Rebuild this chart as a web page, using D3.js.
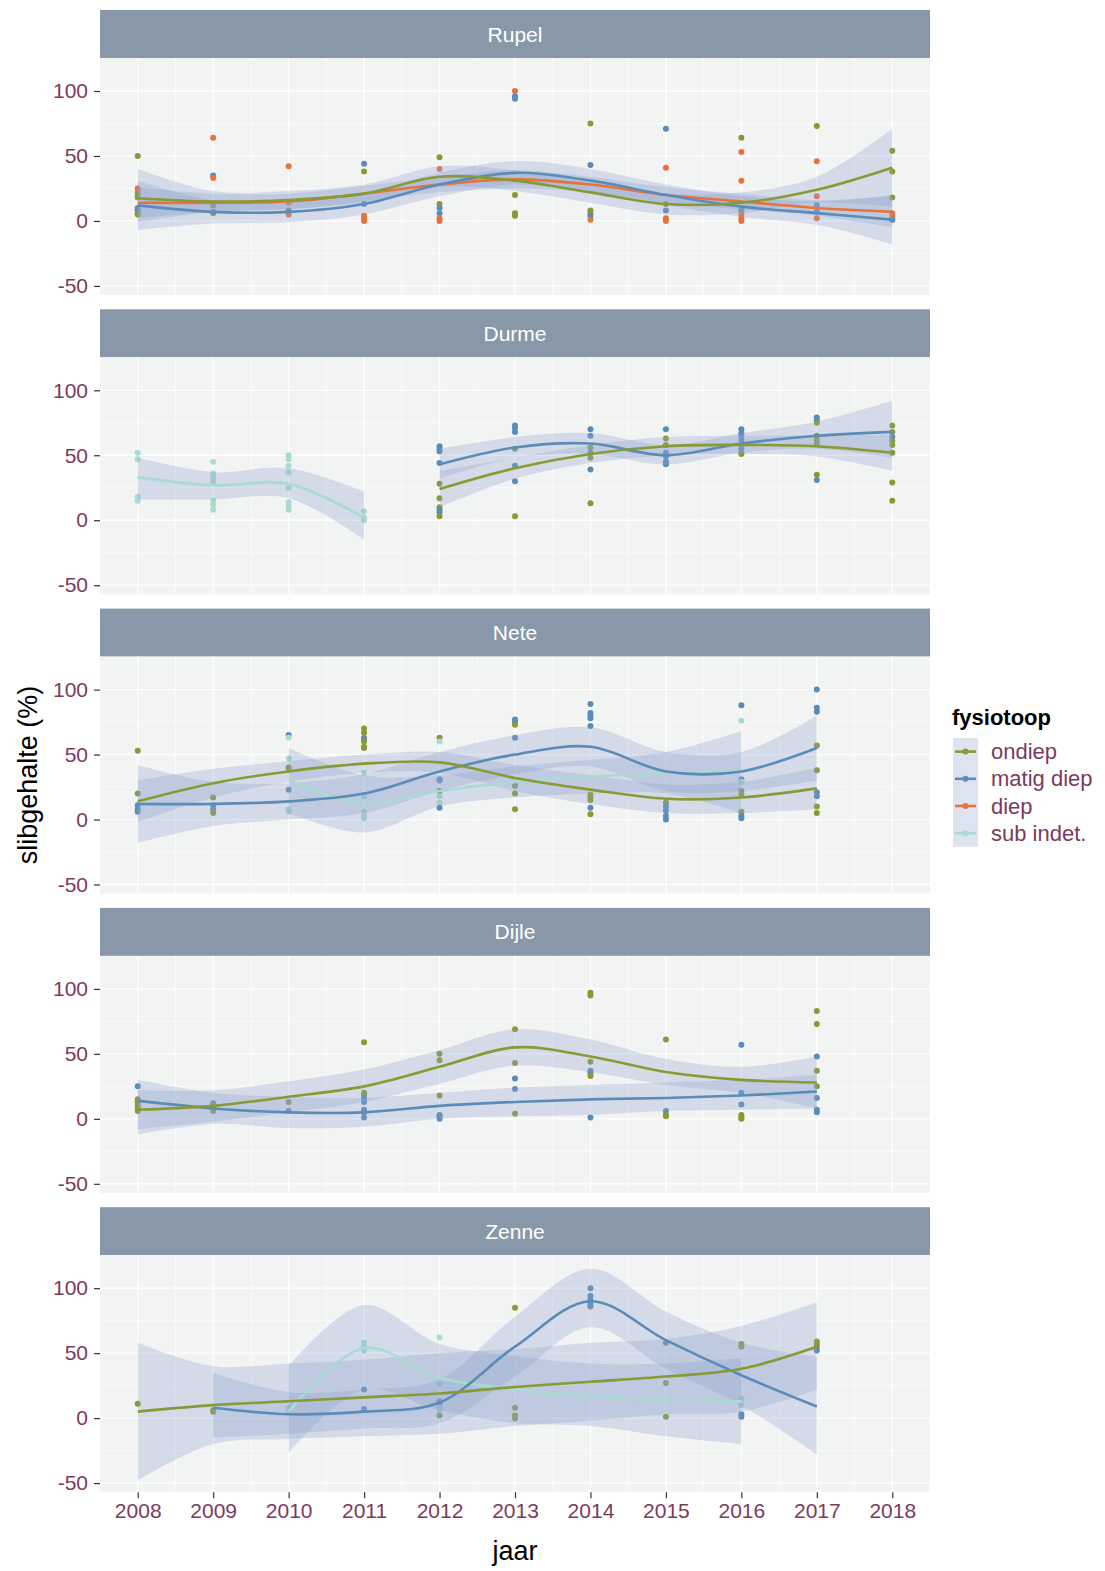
<!DOCTYPE html>
<html>
<head>
<meta charset="utf-8">
<script src="https://cdn.jsdelivr.net/npm/d3@7"></script>
<style>
  body { margin: 0; background: #fff; }
  text { font-family: "Liberation Sans", Arial, sans-serif; }
</style>
</head>
<body>
<div id="chart"></div>
<script>
/********************************************************/
// categories
const panelNames = ["Rupel", "Durme", "Nete", "Dijle", "Zenne"];
const seriesNames = ["ondiep", "matig diep", "diep", "sub indet."];
const seriesColors = ["#879a33", "#5a8cb9", "#e8733a", "#a8dcd2"];
const yearTicks = [2008, 2009, 2010, 2011, 2012, 2013, 2014, 2015, 2016, 2017, 2018];
const yTicks = [-50, 0, 50, 100];
/********************************************************/
// raw points: [jaar, fysiotoop index, slibgehalte]
const rupelPoints = [
  [2008,0,50],[2008,2,25],[2008,2,22],[2008,0,20],[2008,0,18],[2008,0,10],[2008,0,8],[2008,0,6],[2008,0,5],[2008,1,9],
  [2009,2,64],[2009,1,35],[2009,2,33],[2009,2,12],[2009,0,12],[2009,2,6],[2009,1,7],
  [2010,2,42],[2010,2,14],[2010,1,8],[2010,2,5],
  [2011,1,44],[2011,0,38],[2011,1,13],[2011,2,4],[2011,2,2],[2011,2,0],
  [2012,0,49],[2012,2,40],[2012,0,13],[2012,1,10],[2012,1,6],[2012,2,2],[2012,2,0],
  [2013,2,100],[2013,1,96],[2013,1,94],[2013,0,20],[2013,0,6],[2013,0,4],
  [2014,0,75],[2014,1,43],[2014,0,8],[2014,0,6],[2014,1,4],[2014,2,1],
  [2015,1,71],[2015,2,41],[2015,0,13],[2015,1,8],[2015,2,2],[2015,2,0],
  [2016,0,64],[2016,2,53],[2016,2,31],[2016,0,8],[2016,1,8],[2016,2,5],[2016,2,2],[2016,2,0],
  [2017,0,73],[2017,2,46],[2017,2,19],[2017,1,12],[2017,1,7],[2017,2,2],
  [2018,0,54],[2018,0,38],[2018,0,18],[2018,2,6],[2018,2,3],[2018,2,1],[2018,1,1]
];
const durmePoints = [
  [2008,3,52],[2008,3,47],[2008,3,18],[2008,3,15],
  [2009,3,45],[2009,3,36],[2009,3,33],[2009,3,30],[2009,3,15],[2009,3,12],[2009,3,8],
  [2010,3,50],[2010,3,47],[2010,3,42],[2010,3,37],[2010,3,25],[2010,3,14],[2010,3,11],[2010,3,8],
  [2011,3,7],[2011,3,2],[2011,3,0],
  [2012,1,57],[2012,1,55],[2012,1,53],[2012,1,44],[2012,0,28],[2012,0,17],[2012,0,10],[2012,1,8],[2012,1,6],[2012,0,3],
  [2013,1,73],[2013,1,71],[2013,1,68],[2013,0,55],[2013,1,42],[2013,1,30],[2013,0,3],
  [2014,1,70],[2014,1,65],[2014,0,56],[2014,1,52],[2014,0,48],[2014,1,39],[2014,0,13],
  [2015,1,70],[2015,0,63],[2015,0,58],[2015,1,52],[2015,1,49],[2015,1,45],[2015,1,43],
  [2016,1,70],[2016,1,67],[2016,1,65],[2016,1,62],[2016,1,55],[2016,1,52],[2016,0,51],
  [2017,1,79],[2017,1,77],[2017,0,75],[2017,0,65],[2017,0,62],[2017,0,59],[2017,0,35],[2017,1,31],
  [2018,0,73],[2018,0,68],[2018,1,64],[2018,0,61],[2018,0,58],[2018,0,52],[2018,0,29],[2018,0,15]
];
const netePoints = [
  [2008,0,53],[2008,0,20],[2008,1,11],[2008,1,8],[2008,1,6],
  [2009,0,17],[2009,1,11],[2009,1,8],[2009,0,5],
  [2010,1,65],[2010,3,63],[2010,3,47],[2010,0,40],[2010,0,39],[2010,1,23],[2010,3,8],[2010,3,6],
  [2011,0,70],[2011,0,67],[2011,0,63],[2011,1,62],[2011,0,60],[2011,0,56],[2011,0,55],[2011,3,36],[2011,3,18],[2011,3,6],[2011,3,3],[2011,3,1],
  [2012,0,63],[2012,3,60],[2012,1,31],[2012,1,30],[2012,0,22],[2012,3,18],[2012,3,13],[2012,1,9],
  [2013,1,77],[2013,1,75],[2013,0,73],[2013,1,63],[2013,0,26],[2013,0,20],[2013,0,8],
  [2014,1,89],[2014,1,82],[2014,1,80],[2014,1,78],[2014,1,72],[2014,0,19],[2014,0,17],[2014,0,15],[2014,1,9],[2014,0,4],
  [2015,0,13],[2015,1,10],[2015,1,7],[2015,1,3],[2015,1,0],
  [2016,1,88],[2016,3,76],[2016,1,31],[2016,3,29],[2016,0,22],[2016,0,19],[2016,0,6],[2016,1,3],[2016,1,1],
  [2017,1,100],[2017,1,86],[2017,1,83],[2017,0,57],[2017,0,38],[2017,1,21],[2017,1,18],[2017,0,10],[2017,0,5]
];
const dijlePoints = [
  [2008,1,25],[2008,0,15],[2008,0,13],[2008,0,11],[2008,0,9],[2008,0,6],
  [2009,1,12],[2009,0,10],[2009,1,8],[2009,0,6],
  [2010,0,13],[2010,1,6],
  [2011,0,59],[2011,0,20],[2011,0,18],[2011,1,16],[2011,1,13],[2011,1,7],[2011,1,5],[2011,1,1],
  [2012,0,50],[2012,0,45],[2012,0,18],[2012,1,3],[2012,1,2],[2012,1,0],
  [2013,0,69],[2013,0,43],[2013,1,31],[2013,1,23],[2013,0,4],
  [2014,0,97],[2014,0,95],[2014,0,44],[2014,1,37],[2014,1,35],[2014,0,33],[2014,1,1],
  [2015,0,61],[2015,1,6],[2015,0,3],[2015,0,2],
  [2016,1,57],[2016,1,20],[2016,1,11],[2016,0,3],[2016,0,1],[2016,0,0],
  [2017,0,83],[2017,0,73],[2017,1,48],[2017,0,37],[2017,0,25],[2017,1,16],[2017,1,7],[2017,1,5]
];
const zennePoints = [
  [2008,0,11],
  [2009,0,6],[2009,0,5],
  [2010,3,8],[2010,3,6],
  [2011,3,58],[2011,3,55],[2011,3,52],[2011,1,22],[2011,1,7],
  [2012,3,62],[2012,3,26],[2012,1,13],[2012,1,11],[2012,3,8],[2012,3,6],[2012,0,2],
  [2013,0,85],[2013,0,8],[2013,0,2],[2013,0,0],
  [2014,1,100],[2014,1,94],[2014,1,91],[2014,1,88],[2014,1,86],
  [2015,1,58],[2015,0,27],[2015,0,1],
  [2016,0,57],[2016,0,55],[2016,3,15],[2016,3,10],[2016,1,3],[2016,1,1],
  [2017,0,59],[2017,0,57],[2017,0,55],[2017,1,52]
];
/********************************************************/
// smoothed trends (loess): fit, lower and upper band per year
const rupelSmooth = [
  { s: 2, x0: 2008, fit: [14,14,15,21,28,32,28,20,15,10,7], lo: [2,7,9,15,22,25,22,14,9,4,-5], hi: [26,21,21,27,34,39,34,26,21,16,19] },
  { s: 1, x0: 2008, fit: [12,7,7,13,28,37,31,20,11,6,1], lo: [-7,-2,-1,5,19,28,22,12,3,-3,-18], hi: [31,16,15,21,37,46,40,28,19,15,20] },
  { s: 0, x0: 2008, fit: [17.5,15,16,21,34,31,22,13,14,24,41], lo: [-1,7,9,14,26,23,14,5,6,14,11], hi: [40,23,23,28,42,39,30,21,22,34,71] }
];
const durmeSmooth = [
  { s: 3, x0: 2008, fit: [33,27,28,2], lo: [16,16,17,-15], hi: [48,37,40,22] },
  { s: 1, x0: 2012, fit: [43,56,59,50,59,65,68], lo: [32,48,51,43,52,55,48], hi: [55,64,67,58,67,76,92] },
  { s: 0, x0: 2012, fit: [24,40,51,57,58,57,52], lo: [10,32,44,50,51,49,38], hi: [38,48,58,64,65,65,66] }
];
const neteSmooth = [
  { s: 3, x0: 2010, fit: [30,12,22,29,33,36,37], lo: [5,-10,10,17,20,20,5], hi: [55,34,34,41,46,52,68] },
  { s: 1, x0: 2008, fit: [12,12,14,20,37,50,56,37,37,55], lo: [-18,-5,0,5,22,35,41,22,22,30], hi: [42,29,28,35,52,65,71,52,52,80] },
  { s: 0, x0: 2008, fit: [14,28,37,43,44,32,23,16,17,24], lo: [-2,17,29,36,36,22,12,5,5,8], hi: [30,39,45,50,52,42,34,27,29,40] }
];
const dijleSmooth = [
  { s: 1, x0: 2008, fit: [14,8,5,5,10,13,15,16,18,21], lo: [-12,-4,-7,-6,0,2,3,6,7,8], hi: [30,20,17,16,20,24,26,28,30,34] },
  { s: 0, x0: 2008, fit: [7,10,17,25,40,55,48,36,30,28], lo: [-8,-2,5,13,27,41,36,26,20,8], hi: [22,22,29,38,53,69,61,46,40,48] }
];
const zenneSmooth = [
  { s: 3, x0: 2010, fit: [5,54,31,22,17,14,13], lo: [-27,22,6,-4,-6,-14,-20], hi: [40,87,57,48,42,42,46] },
  { s: 1, x0: 2009, fit: [8,3,5,12,55,90,60,33,9], lo: [-15,-12,-8,-4,32,70,38,10,-28], hi: [35,20,22,30,78,115,82,58,47] },
  { s: 0, x0: 2008, fit: [5,10,13,16,19,24,28,32,38,55], lo: [-48,-20,-16,-14,-12,-6,-2,3,5,22], hi: [58,40,42,45,50,53,58,61,71,89] }
];
const panelPoints = [rupelPoints, durmePoints, netePoints, dijlePoints, zennePoints];
const panelSmooth = [rupelSmooth, durmeSmooth, neteSmooth, dijleSmooth, zenneSmooth];
/********************************************************/
const svgWidth = 1105;
const svgHeight = 1571;
const plotLeft = 100;
const plotRight = 930;
const firstTop = 10;
const panelStep = 299.3;
const stripHeight = 48;
const panelHeight = 237;

const svg = d3.select("#chart").append("svg").attr("width", svgWidth).attr("height", svgHeight);
svg.append("rect").attr("width", svgWidth).attr("height", svgHeight).attr("fill", "#fff");

const xScale = d3.scaleLinear().domain([2007.5, 2018.5]).range([plotLeft, plotRight]);

const bandFill = "#8fa2cc";
const bandOpacity = 0.3;
const curve = d3.curveCatmullRom.alpha(0.5);
const tickColor = "#7d3a5c";
const fontStack = "Liberation Sans, Arial, sans-serif";

panelNames.forEach((name, i) => {
  const top = firstTop + i * panelStep;
  const pTop = top + stripHeight;
  const pBottom = pTop + panelHeight;
  const yScale = d3.scaleLinear().domain([-57, 125.4]).range([pBottom, pTop]);
  const g = svg.append("g");

  // strip
  g.append("rect").attr("x", plotLeft).attr("y", top).attr("width", plotRight - plotLeft).attr("height", stripHeight).attr("fill", "#8898a8");
  g.append("text").attr("x", (plotLeft + plotRight) / 2).attr("y", top + stripHeight / 2 + 7.5)
    .attr("text-anchor", "middle").attr("fill", "#fff").attr("font-size", "21px").text(name);

  // panel background + grid
  g.append("rect").attr("x", plotLeft).attr("y", pTop).attr("width", plotRight - plotLeft).attr("height", panelHeight).attr("fill", "#f2f3f3");
  const minorY = [-25, 25, 75];
  const minorX = yearTicks.slice(0, -1).map((d) => d + 0.5);
  g.selectAll(".minY").data(minorY).enter().append("line")
    .attr("x1", plotLeft).attr("x2", plotRight).attr("y1", (d) => yScale(d)).attr("y2", (d) => yScale(d))
    .attr("stroke", "#fff").attr("stroke-width", 0.6);
  g.selectAll(".minX").data(minorX).enter().append("line")
    .attr("y1", pTop).attr("y2", pBottom).attr("x1", (d) => xScale(d)).attr("x2", (d) => xScale(d))
    .attr("stroke", "#fff").attr("stroke-width", 0.6);
  g.selectAll(".majY").data(yTicks).enter().append("line")
    .attr("x1", plotLeft).attr("x2", plotRight).attr("y1", (d) => yScale(d)).attr("y2", (d) => yScale(d))
    .attr("stroke", "#fff").attr("stroke-width", 1.3);
  g.selectAll(".majX").data(yearTicks).enter().append("line")
    .attr("y1", pTop).attr("y2", pBottom).attr("x1", (d) => xScale(d)).attr("x2", (d) => xScale(d))
    .attr("stroke", "#fff").attr("stroke-width", 1.3);

  // y axis
  const leftAxis = d3.axisLeft(yScale).tickValues(yTicks).tickFormat((d) => String(d)).tickSize(6).tickPadding(6);
  const ya = g.append("g").attr("transform", `translate(${plotLeft}, 0)`).call(leftAxis);
  ya.select(".domain").remove();
  ya.selectAll("line").attr("stroke", "#333").attr("stroke-width", 1.2);
  ya.selectAll("text").attr("fill", tickColor).attr("font-size", "21px").attr("font-family", fontStack);

  // clip for bands
  const clipId = "clip" + i;
  g.append("clipPath").attr("id", clipId).append("rect")
    .attr("x", plotLeft).attr("y", pTop).attr("width", plotRight - plotLeft).attr("height", panelHeight);
  const plot = g.append("g").attr("clip-path", `url(#${clipId})`);

  // points
  plot.selectAll(".pt").data(panelPoints[i]).enter().append("circle")
    .attr("cx", (d) => xScale(d[0])).attr("cy", (d) => yScale(d[2])).attr("r", 3)
    .attr("fill", (d) => seriesColors[d[1]]);

  // bands and trend lines
  const smooth = panelSmooth[i];
  const area = d3.area().curve(curve)
    .x((d) => xScale(d.x)).y0((d) => yScale(d.lo)).y1((d) => yScale(d.hi));
  const line = d3.line().curve(curve).x((d) => xScale(d.x)).y((d) => yScale(d.fit));
  const rows = smooth.map((sm) => sm.fit.map((f, k) => ({ x: sm.x0 + k, fit: f, lo: sm.lo[k], hi: sm.hi[k] })));
  plot.selectAll(".band").data(rows).enter().append("path")
    .attr("d", area).attr("fill", bandFill).attr("opacity", bandOpacity);
  plot.selectAll(".trend").data(rows).enter().append("path")
    .attr("d", line).attr("fill", "none")
    .attr("stroke", (d, k) => seriesColors[smooth[k].s]).attr("stroke-width", 2.6);

  // x axis on last panel
  if (i === panelNames.length - 1) {
    const bottomAxis = d3.axisBottom(xScale).tickValues(yearTicks).tickFormat(d3.format("d")).tickSize(6).tickPadding(5);
    const xa = g.append("g").attr("transform", `translate(0, ${pBottom})`).call(bottomAxis);
    xa.select(".domain").remove();
    xa.selectAll("line").attr("stroke", "#333").attr("stroke-width", 1.2);
    xa.selectAll("text").attr("fill", tickColor).attr("font-size", "21px").attr("font-family", fontStack);
  }
});

// axis titles
svg.append("text").attr("x", xScale(2013)).attr("y", 1560).attr("text-anchor", "middle")
  .attr("font-size", "27px").attr("fill", "#000").text("jaar");
svg.append("text").attr("transform", "translate(37, 775) rotate(-90)").attr("text-anchor", "middle")
  .attr("font-size", "27px").attr("fill", "#000").text("slibgehalte (%)");

// legend
const legend = svg.append("g").attr("transform", "translate(952, 0)");
legend.append("text").attr("x", 0).attr("y", 725).attr("font-size", "22px").attr("font-weight", "bold").attr("fill", "#000").text("fysiotoop");
const keyTop = 738;
const keyH = 27.2;
legend.append("rect").attr("x", 1).attr("y", keyTop).attr("width", 25).attr("height", keyH * seriesNames.length)
  .attr("fill", bandFill).attr("opacity", 0.3);
legend.selectAll(".keyline").data(seriesNames).enter().append("line")
  .attr("x1", 3).attr("x2", 24).attr("y1", (d, k) => keyTop + k * keyH + keyH / 2).attr("y2", (d, k) => keyTop + k * keyH + keyH / 2)
  .attr("stroke", (d, k) => seriesColors[k]).attr("stroke-width", 2.6);
legend.selectAll(".keypt").data(seriesNames).enter().append("circle")
  .attr("cx", 13.5).attr("cy", (d, k) => keyTop + k * keyH + keyH / 2).attr("r", 3)
  .attr("fill", (d, k) => seriesColors[k]);
legend.selectAll(".keytxt").data(seriesNames).enter().append("text")
  .attr("x", 39).attr("y", (d, k) => keyTop + k * keyH + keyH / 2 + 7.5)
  .attr("font-size", "22px").attr("fill", tickColor).text((d) => d);
</script>
</body>
</html>
